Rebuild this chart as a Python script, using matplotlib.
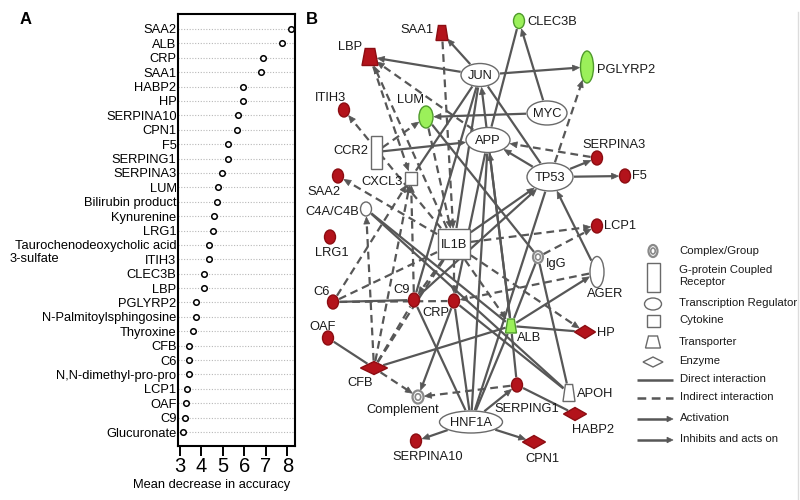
import numpy as np
import matplotlib
matplotlib.use("Agg")
import matplotlib.pyplot as plt
from matplotlib.patches import Ellipse, Rectangle, Polygon
from matplotlib.transforms import blended_transform_factory

plt.rcParams['font.family'] = ['Liberation Sans', 'DejaVu Sans']

# ---- panel A data: mean decrease in accuracy ----
features = ['SAA2', 'ALB', 'CRP', 'SAA1', 'HABP2', 'HP', 'SERPINA10', 'CPN1', 'F5',
            'SERPING1', 'SERPINA3', 'LUM', 'Bilirubin product', 'Kynurenine', 'LRG1',
            'Taurochenodeoxycholic acid', 'ITIH3', 'CLEC3B', 'LBP', 'PGLYRP2',
            'N-Palmitoylsphingosine', 'Thyroxine', 'CFB', 'C6', 'N,N-dimethyl-pro-pro',
            'LCP1', 'OAF', 'C9', 'Glucuronate']
accuracy = [8.15, 7.74, 6.87, 6.76, 5.93, 5.93, 5.70, 5.67, 5.25,
            5.24, 4.96, 4.79, 4.74, 4.57, 4.55,
            4.37, 4.37, 4.13, 4.12, 3.76,
            3.73, 3.61, 3.43, 3.42, 3.40,
            3.34, 3.26, 3.23, 3.14]
x_ticks = [3, 4, 5, 6, 7, 8]

# ---- panel B data: network ----
node_names = ['SAA1', 'CLEC3B', 'LBP', 'JUN', 'PGLYRP2', 'ITIH3', 'LUM', 'MYC', 'APP',
              'CCR2', 'SERPINA3', 'TP53', 'SAA2', 'CXCL3', 'C4A/C4B', 'F5', 'LCP1',
              'LRG1', 'IL1B', 'IgG', 'AGER', 'C6', 'C9', 'CRP', 'ALB', 'HP', 'OAF',
              'CFB', 'SERPING1', 'APOH', 'Complement', 'HNF1A', 'HABP2', 'SERPINA10',
              'CPN1']
node_kind = ['trap', 'oval', 'trap', 'oval', 'oval', 'oval', 'oval', 'oval', 'oval',
             'rect', 'oval', 'oval', 'oval', 'rect', 'oval', 'oval', 'oval',
             'oval', 'rect', 'complex', 'oval', 'oval', 'oval', 'oval', 'trap', 'diamond', 'oval',
             'diamond', 'oval', 'trap', 'complex', 'oval', 'diamond', 'oval',
             'diamond']
node_reg = ['up', 'down', 'up', 'none', 'down', 'up', 'down', 'none', 'none',
            'none', 'up', 'none', 'up', 'none', 'none', 'up', 'up',
            'up', 'none', 'none', 'none', 'up', 'up', 'up', 'down', 'up', 'up',
            'up', 'up', 'none', 'none', 'none', 'up', 'up',
            'up']

edge_src = ['JUN', 'JUN', 'JUN', 'MYC', 'MYC', 'APP', 'CCR2', 'TP53', 'TP53', 'TP53',
            'JUN', 'CXCL3', 'JUN', 'JUN', 'ALB', 'LUM', 'IL1B', 'C9', 'AGER', 'APP',
            'HNF1A', 'ALB', 'C6', 'OAF', 'CFB', 'ALB', 'ALB', 'ALB', 'ALB', 'SERPING1',
            'HNF1A', 'HNF1A', 'HNF1A', 'HNF1A', 'HNF1A', 'HNF1A', 'CRP', 'IgG', 'CRP',
            'C4A/C4B', 'C4A/C4B', 'TP53',
            'APP', 'LBP', 'IL1B', 'SAA1', 'IL1B', 'CCR2', 'LUM', 'IL1B', 'SERPINA3',
            'TP53', 'IL1B', 'IgG', 'IL1B', 'AGER', 'IL1B', 'CFB', 'SERPING1', 'CFB',
            'C6', 'C9', 'CFB', 'C6', 'CFB', 'CFB', 'IL1B', 'IL1B', 'C6']
edge_dst = ['LBP', 'SAA1', 'PGLYRP2', 'LUM', 'CLEC3B', 'CLEC3B', 'APP', 'APP', 'SERPINA3', 'F5',
            'TP53', 'JUN', 'IL1B', 'C9', 'JUN', 'IgG', 'TP53', 'TP53', 'TP53', 'CRP',
            'APP', 'APP', 'C9', 'CFB', 'ALB', 'HP', 'AGER', 'IgG', 'SERPING1', 'HABP2',
            'SERPING1', 'SERPINA10', 'CPN1', 'ALB', 'C9', 'CRP', 'APOH', 'APOH', 'Complement',
            'APOH', 'ALB', 'HNF1A',
            'LBP', 'CXCL3', 'LBP', 'IL1B', 'ITIH3', 'LUM', 'IL1B', 'SAA2', 'APP',
            'PGLYRP2', 'LCP1', 'LCP1', 'HP', 'CRP', 'ALB', 'Complement', 'Complement', 'C4A/C4B',
            'CXCL3', 'CXCL3', 'CXCL3', 'IL1B', 'C9', 'IL1B', 'CRP', 'C9', 'CRP']
edge_type = ['direct'] * 42 + ['indirect'] * 27
edge_arrow = [1, 1, 1, 1, 1, 0, 1, 1, 1, 1,
              0, 0, 0, 0, 1, 0, 1, 1, 1, 0,
              0, 1, 0, 0, 0, 0, 1, 0, 0, 0,
              1, 1, 1, 0, 0, 0, 0, 0, 1,
              0, 0, 0,
              1, 1, 1, 1, 1, 1, 1, 1, 1,
              1, 1, 1, 1, 1, 1, 1, 1, 1,
              1, 1, 1, 0, 0, 0, 1, 1, 0]

legend_shapes = ['Complex/Group', 'G-protein Coupled\nReceptor', 'Transcription Regulator',
                 'Cytokine', 'Transporter', 'Enzyme']
legend_lines = ['Direct interaction', 'Indirect interaction', 'Activation', 'Inhibits and acts on']

# ---- layout of the network (pixel coords of the picture) ----
pos = {'SAA1': (442, 33), 'CLEC3B': (519, 21), 'LBP': (370, 57), 'JUN': (480, 75),
       'PGLYRP2': (587, 67), 'ITIH3': (344, 110), 'LUM': (426, 117), 'MYC': (547, 113),
       'APP': (488, 140), 'CCR2': (376, 152), 'SERPINA3': (597, 158), 'TP53': (550, 177),
       'SAA2': (338, 176), 'CXCL3': (411, 178), 'C4A/C4B': (366, 209), 'F5': (625, 176),
       'LCP1': (597, 226), 'LRG1': (330, 237), 'IL1B': (454, 244), 'IgG': (538, 257),
       'AGER': (597, 272), 'C6': (333, 302), 'C9': (414, 300), 'CRP': (454, 301),
       'ALB': (511, 326), 'HP': (585, 332), 'OAF': (328, 338), 'CFB': (374, 368),
       'SERPING1': (517, 385), 'APOH': (569, 393), 'Complement': (418, 397),
       'HNF1A': (471, 422), 'HABP2': (575, 414), 'SERPINA10': (416, 441), 'CPN1': (534, 442)}
size = {'SAA1': (12, 15), 'CLEC3B': (11, 15), 'LBP': (16, 17), 'JUN': (38, 23),
        'PGLYRP2': (13, 32), 'ITIH3': (11, 14), 'LUM': (14, 22), 'MYC': (40, 24),
        'APP': (44, 25), 'CCR2': (11, 33), 'SERPINA3': (11, 14), 'TP53': (46, 28),
        'SAA2': (11, 14), 'CXCL3': (12, 13), 'C4A/C4B': (11, 14), 'F5': (11, 14),
        'LCP1': (11, 14), 'LRG1': (11, 14), 'IL1B': (32, 30), 'IgG': (10, 12),
        'AGER': (14, 31), 'C6': (11, 14), 'C9': (11, 14), 'CRP': (11, 14),
        'ALB': (11, 14), 'HP': (21, 13), 'OAF': (11, 14), 'CFB': (27, 13),
        'SERPING1': (11, 14), 'APOH': (12, 17), 'Complement': (11, 13),
        'HNF1A': (63, 22), 'HABP2': (23, 13), 'SERPINA10': (11, 14), 'CPN1': (23, 13)}
# label offset (dx, dy, ha); nodes not listed get the label inside
lab = {'SAA1': (-8, -3, 'right'), 'CLEC3B': (8, 1, 'left'), 'LBP': (-8, -10, 'right'),
       'PGLYRP2': (10, 3, 'left'), 'ITIH3': (-13, -12, 'center'), 'LUM': (-16, -17, 'center'),
       'CCR2': (-8, -1, 'right'), 'SERPINA3': (17, -13, 'center'), 'SAA2': (-14, 16, 'center'),
       'CXCL3': (-8, 4, 'right'), 'C4A/C4B': (-7, 3, 'right'), 'F5': (7, 0, 'left'),
       'LCP1': (7, 0, 'left'), 'LRG1': (2, 16, 'center'), 'IgG': (18, 7, 'center'),
       'AGER': (8, 22, 'center'), 'C6': (-11, -10, 'center'), 'C9': (-12, -10, 'center'),
       'CRP': (-18, 12, 'center'), 'ALB': (18, 12, 'center'), 'HP': (12, 1, 'left'),
       'OAF': (-5, -11, 'center'), 'CFB': (-14, 15, 'center'), 'SERPING1': (10, 24, 'center'),
       'APOH': (8, 1, 'left'), 'Complement': (-15, 13, 'center'), 'HABP2': (18, 16, 'center'),
       'SERPINA10': (12, 16, 'center'), 'CPN1': (8, 17, 'center')}

RED, RED_EDGE = '#b3131b', '#8c0d12'
GREEN, GREEN_EDGE = '#9bf05a', '#4f9a2c'
LINE = '#575757'
OUTLINE = '#6a6a6a'

fig = plt.figure(figsize=(8, 5), dpi=100)

# ================= panel A =================
axA = fig.add_axes([178 / 800, 1 - 446 / 500, 117 / 800, 432 / 500])
rows = np.arange(len(features))
for r in rows:
    axA.axhline(r, color='#b8b8b8', lw=0.8, ls=(0, (1, 1.5)), zorder=1)
axA.scatter(accuracy, rows, s=16, facecolor='white', edgecolor='black', lw=1.1,
            zorder=3, clip_on=False)
axA.set_xlim(2.907, 8.356)
axA.set_ylim(len(features) - 1 + 0.97, -1.04)
axA.set_xticks(x_ticks)
axA.set_yticks(rows, features)
axA.tick_params(axis='y', length=0, pad=1, labelsize=9.3)
axA.tick_params(axis='x', length=7, width=1.4, labelsize=14.5, pad=1, direction='out')
for s in axA.spines.values():
    s.set_linewidth(1.5)
tr = blended_transform_factory(fig.transFigure, axA.transData)
axA.text(10 / 800, features.index('ITIH3'), '3-sulfate', transform=tr,
         fontsize=9.3, ha='left', va='center')
fig.text(212 / 800, 1 - 485 / 500, 'Mean decrease in accuracy', fontsize=9.3,
         ha='center', va='center')
fig.text(20 / 800, 1 - 20 / 500, 'A', fontsize=12, fontweight='bold', ha='left', va='center')
fig.text(306 / 800, 1 - 20 / 500, 'B', fontsize=12, fontweight='bold', ha='left', va='center')

# ================= panel B =================
axB = fig.add_axes([300 / 800, 0, 500 / 800, 1])
axB.set_xlim(300, 800)
axB.set_ylim(500, 0)
axB.axis('off')


def draw_shape(ax, kind, x, y, w, h, fc, ec, lw=1.0, z=3):
    if kind == 'oval':
        ax.add_patch(Ellipse((x, y), w, h, fc=fc, ec=ec, lw=lw, zorder=z))
    elif kind == 'rect':
        ax.add_patch(Rectangle((x - w / 2, y - h / 2), w, h, fc=fc, ec=ec, lw=lw, zorder=z))
    elif kind == 'diamond':
        ax.add_patch(Polygon([(x - w / 2, y), (x, y - h / 2), (x + w / 2, y), (x, y + h / 2)],
                             closed=True, fc=fc, ec=ec, lw=lw, zorder=z))
    elif kind == 'trap':
        top = w * 0.6
        ax.add_patch(Polygon([(x - top / 2, y - h / 2), (x + top / 2, y - h / 2),
                              (x + w / 2, y + h / 2), (x - w / 2, y + h / 2)],
                             closed=True, fc=fc, ec=ec, lw=lw, zorder=z))
    elif kind == 'complex':
        ax.add_patch(Ellipse((x, y), w, h, fc='white', ec='#8a8a8a', lw=1.6, zorder=z))
        ax.add_patch(Ellipse((x, y), w * 0.5, h * 0.5, fc='white', ec='#8a8a8a', lw=1.2, zorder=z))


def boundary(kind, w, h, ux, uy):
    a, b = w / 2, h / 2
    if kind in ('oval', 'complex'):
        return 1 / np.sqrt((ux / a) ** 2 + (uy / b) ** 2)
    if kind == 'diamond':
        return 1 / (abs(ux) / a + abs(uy) / b)
    if kind == 'trap':
        a = a * 0.8
    return min(a / max(abs(ux), 1e-6), b / max(abs(uy), 1e-6))


kind_of = dict(zip(node_names, node_kind))


def arrow_head(ax, x, y, ux, uy, length=7, half=3, z=2):
    bx, by = x - ux * length, y - uy * length
    ax.add_patch(Polygon([(x, y), (bx - uy * half, by + ux * half), (bx + uy * half, by - ux * half)],
                         closed=True, fc=LINE, ec=LINE, lw=0.5, zorder=z))


# edges
for s, d, t, a in zip(edge_src, edge_dst, edge_type, edge_arrow):
    (x0, y0), (x1, y1) = pos[s], pos[d]
    L = np.hypot(x1 - x0, y1 - y0)
    ux, uy = (x1 - x0) / L, (y1 - y0) / L
    r0 = boundary(kind_of[s], *size[s], ux, uy) + 1
    r1 = boundary(kind_of[d], *size[d], ux, uy) + 1
    sx, sy = x0 + ux * r0, y0 + uy * r0
    ex, ey = x1 - ux * r1, y1 - uy * r1
    ls = '-' if t == 'direct' else (0, (3.5, 2.2))
    lx, ly = (ex - ux * 5, ey - uy * 5) if a else (ex, ey)
    axB.plot([sx, lx], [sy, ly], color=LINE, lw=1.6, ls=ls, zorder=1, solid_capstyle='butt')
    if a:
        arrow_head(axB, ex, ey, ux, uy)

# nodes
for n, k, g in zip(node_names, node_kind, node_reg):
    x, y = pos[n]
    w, h = size[n]
    if g == 'up':
        fc, ec = RED, RED_EDGE
    elif g == 'down':
        fc, ec = GREEN, GREEN_EDGE
    else:
        fc, ec = 'white', OUTLINE
    draw_shape(axB, k, x, y, w, h, fc, ec)
    if n in lab:
        dx, dy, ha = lab[n]
        axB.text(x + dx, y + dy, n, fontsize=9.3, ha=ha, va='center', color='#1a1a1a', zorder=5)
    else:
        axB.text(x, y + 1, n, fontsize=9.3, ha='center', va='center', color='#1a1a1a', zorder=5)

# legend
icon_kind = ['complex', 'rect', 'oval', 'rect', 'trap', 'diamond']
icon_y = [251, 277, 304, 321, 342, 362]
icon_wh = [(9, 12), (13, 29), (17, 12), (13, 12), (15, 12), (20, 10)]
text_y = [251, 276, 303, 320, 342, 361]
for lbl, k, iy, (w, h), ty in zip(legend_shapes, icon_kind, icon_y, icon_wh, text_y):
    draw_shape(axB, k, 653, iy, w, h, 'white', OUTLINE, lw=1.0)
    axB.text(679, ty, lbl, fontsize=8.2, ha='left', va='center', color='#1a1a1a',
             linespacing=1.15)
line_y = [380, 398, 419, 440]
for i, (lbl, ly) in enumerate(zip(legend_lines, line_y)):
    ls = (0, (3.5, 2.2)) if i == 1 else '-'
    x_end = 667 if i >= 2 else 673
    axB.plot([637, x_end], [ly, ly], color=LINE, lw=1.8, ls=ls, solid_capstyle='butt')
    if i >= 2:
        arrow_head(axB, 673, ly, 1, 0, length=6, half=2.8)
    axB.text(680, ly - 1, lbl, fontsize=8.2, ha='left', va='center', color='#1a1a1a')

axB.plot([798, 798], [12, 500], color='#dcdcdc', lw=1)

fig.savefig('out.png', dpi=100)
